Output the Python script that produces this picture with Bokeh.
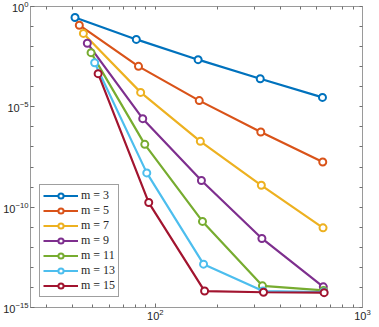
from bokeh.plotting import figure
from bokeh.models import FixedTicker, LogAxis, Legend, LegendItem, LogTickFormatter
from bokeh.embed import file_html
from bokeh.resources import INLINE

m_values = [3, 5, 7, 9, 11, 13, 15]
colors = ["#0072BD", "#D95319", "#EDB120", "#7E2F8E", "#77AC30", "#4DBEEE", "#A2142F"]

x_m3 = [41, 81, 161, 321, 641]
x_m5 = [43, 83, 163, 323, 643]
x_m7 = [45, 85, 165, 325, 645]
x_m9 = [47, 87, 167, 327, 647]
x_m11 = [49, 89, 169, 329, 649]
x_m13 = [51, 91, 171, 331, 651]
x_m15 = [53, 93, 173, 333, 653]

err_m3 = [2.84e-1, 2.29e-2, 2.24e-3, 2.5e-4, 2.95e-5]
err_m5 = [1.17e-1, 1.04e-3, 2.04e-5, 5.6e-7, 1.78e-8]
err_m7 = [4.57e-2, 5.25e-5, 1.9e-7, 1.23e-9, 9.3e-12]
err_m9 = [1.48e-2, 2.57e-6, 2.14e-9, 2.75e-12, 1.07e-14]
err_m11 = [5.0e-3, 1.35e-7, 1.95e-11, 1.2e-14, 7.1e-15]
err_m13 = [1.58e-3, 5.1e-9, 1.45e-13, 6.6e-15, 5.9e-15]
err_m15 = [4.5e-4, 1.7e-10, 6.6e-15, 5.75e-15, 5.5e-15]

xs = [x_m3, x_m5, x_m7, x_m9, x_m11, x_m13, x_m15]
ys = [err_m3, err_m5, err_m7, err_m9, err_m11, err_m13, err_m15]

x_major = [100, 1000]
x_minor = [30, 40, 50, 60, 70, 80, 90, 200, 300, 400, 500, 600, 700, 800, 900]
y_major = [1e-15, 1e-10, 1e-5, 1e0]
y_minor = [10.0 ** k for k in range(-15, 1)]

axis_gray = "#9a9a9a"
tick_gray = "#707070"
label_color = "#262626"

p = figure(width=371, height=322, x_axis_type="log", y_axis_type="log",
           x_range=(25, 1000), y_range=(1e-15, 1),
           output_backend="svg", toolbar_location=None,
           min_border_left=0, min_border_right=9, min_border_top=6, min_border_bottom=0)
p.outline_line_color = None
p.grid.visible = False
p.background_fill_color = "white"


def style_axis(ax, show_labels):
    ax.axis_line_color = axis_gray
    ax.axis_line_width = 1
    ax.major_tick_line_color = tick_gray
    ax.minor_tick_line_color = tick_gray
    ax.major_tick_in = 4
    ax.major_tick_out = 0
    ax.minor_tick_in = 3
    ax.minor_tick_out = 0
    ax.major_label_text_font = "Liberation Sans"
    if show_labels:
        ax.formatter = LogTickFormatter()
        ax.major_label_text_font_size = "11px"
        ax.major_label_text_color = label_color
        ax.major_label_standoff = 2
    else:
        ax.major_label_text_font_size = "0px"
        ax.major_label_text_color = None
        ax.major_label_standoff = 0


p.xaxis.ticker = FixedTicker(ticks=x_major, minor_ticks=x_minor)
p.yaxis.ticker = FixedTicker(ticks=y_major, minor_ticks=y_minor)
style_axis(p.xaxis[0], True)
style_axis(p.yaxis[0], True)
p.xaxis[0].major_label_standoff = 1

# box edges: top and right carry only tick marks (no labels)
top = LogAxis(ticker=FixedTicker(ticks=[], minor_ticks=sorted(x_minor + x_major)))
style_axis(top, False)
right = LogAxis(ticker=FixedTicker(ticks=[], minor_ticks=y_minor))
style_axis(right, False)
p.add_layout(top, "above")
p.add_layout(right, "right")

items = []
for m, c, x, y in zip(m_values, colors, xs, ys):
    ln = p.line(x, y, line_color=c, line_width=2.2)
    sc = p.scatter(x, y, marker="circle", size=7, line_color=c, line_width=2, fill_color="white")
    items.append(LegendItem(label=f"m = {m}", renderers=[ln, sc]))

legend = Legend(items=items, location=(9, 10))
legend.label_text_font = "Liberation Serif"
legend.label_text_font_size = "12px"
legend.label_text_color = label_color
legend.glyph_width = 35
legend.glyph_height = 13
legend.label_height = 13
legend.spacing = 0
legend.padding = 3
legend.margin = 0
legend.label_standoff = 3
legend.border_line_color = "#404040"
legend.border_line_width = 1
legend.background_fill_alpha = 1
p.add_layout(legend, "center")

open("out.html", "w").write(file_html(p, INLINE))
